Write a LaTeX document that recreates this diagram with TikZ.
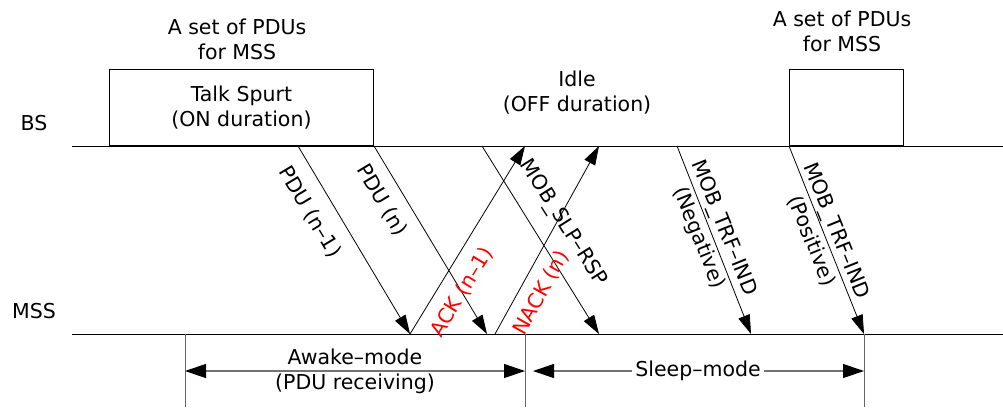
\documentclass[tikz,border=0pt]{standalone}
\usepackage{fontspec}
\setmainfont{DejaVu Sans}
\usetikzlibrary{arrows.meta}
\begin{document}
\begin{tikzpicture}[x=1pt,y=-1pt,
  txt/.style={font=\fontsize{20.5}{25}\selectfont, inner sep=0pt, align=center},
  redtxt/.style={txt, text=red},
  ln/.style={line width=0.8pt},
  msg/.style={line width=0.8pt, -{Triangle[length=19pt,width=12pt]}},
  dim/.style={line width=1.2pt, draw=black!55, {Triangle[length=21pt,width=14pt,color=black]}-{Triangle[length=21pt,width=14pt,color=black]}},
  boxnode/.style={draw, line width=0.8pt, anchor=south west, inner sep=0pt, txt},
  trf/.style={txt, rotate=-68, font=\fontsize{20.5}{27}\selectfont}]
\useasboundingbox (0,0) rectangle (1003,407);

% time lines
\coordinate (bsL) at (72,146);
\coordinate (bsR) at (1003,146);
\coordinate (msL) at (72,334);
\coordinate (msR) at (1003,334);
\draw[ln] (bsL) -- (bsR);
\draw[ln] (msL) -- (msR);
\node[txt] (bs) at (34,123) {BS};
\node[txt] (mss) at (34,311) {MSS};

% boxes
\node[boxnode, minimum width=264pt, minimum height=76pt] (box1) at (109,146) {Talk Spurt\\(ON duration)};
\node[boxnode, minimum width=114pt, minimum height=76pt] (box2) at (789,146) {};
\node[txt] (set1) at (237,39.5) {A set of PDUs\\for MSS};
\node[txt] (set2) at (842,31.5) {A set of PDUs\\for MSS};
\node[txt] (idle) at (577,92.5) {Idle\\(OFF duration)};

% message end points
\coordinate (p1s) at (298,146);  \coordinate (p1e) at (410,334);
\coordinate (p2s) at (374,146);  \coordinate (p2e) at (487,334);
\coordinate (aks) at (410,334);  \coordinate (ake) at (525,146);
\coordinate (nks) at (495,334);  \coordinate (nke) at (599,146);
\coordinate (sls) at (482,146);  \coordinate (sle) at (599,334);
\coordinate (tns) at (677,146);  \coordinate (tne) at (751,334);
\coordinate (tps) at (789,146);  \coordinate (tpe) at (864,334);

\draw[msg] (p1s) -- (p1e);
\draw[msg] (p2s) -- (p2e);
\draw[msg] (aks) -- (ake);
\draw[msg] (nks) -- (nke);
\draw[msg] (sls) -- (sle);
\draw[msg] (tns) -- (tne);
\draw[msg] (tps) -- (tpe);

% message labels
\node[txt, rotate=-59] (lp1) at (310,212) {PDU (n--1)};
\node[txt, rotate=-59] (lp2) at (382,200) {PDU (n)};
\node[redtxt, rotate=58.4] (lak) at (462,292) {ACK (n--1)};
\node[redtxt, rotate=60.7] (lnk) at (541,293) {NACK (n)};
\node[txt, rotate=-57.7] (lsl) at (563,223) {MOB\_SLP--RSP};
\node[trf] (ltn) at (711,233) {MOB\_TRF--IND\\(Negative)};
\node[trf] (ltp) at (824,236) {MOB\_TRF--IND\\(Positive)};

% mode markers
\coordinate (v1t) at (185,334); \coordinate (v1b) at (185,407);
\coordinate (v2t) at (525,334); \coordinate (v2b) at (525,407);
\coordinate (v3t) at (864,334); \coordinate (v3b) at (864,407);
\draw[ln, draw=black!60] (v1t) -- (v1b);
\draw[ln, draw=black!60] (v2t) -- (v2b);
\draw[ln, draw=black!60] (v3t) -- (v3b);

\coordinate (awL) at (185,371); \coordinate (awR) at (525,371);
\coordinate (slL) at (533,371); \coordinate (slR) at (864,371);
\draw[dim] (awL) -- (awR);
\draw[dim] (slL) -- (slR);
\node[txt] (awake) at (355,371) {Awake--mode\\(PDU receiving)};
\node[txt, fill=white, inner xsep=3pt] (sleep) at (698,371) {Sleep--mode};
\end{tikzpicture}
\end{document}
